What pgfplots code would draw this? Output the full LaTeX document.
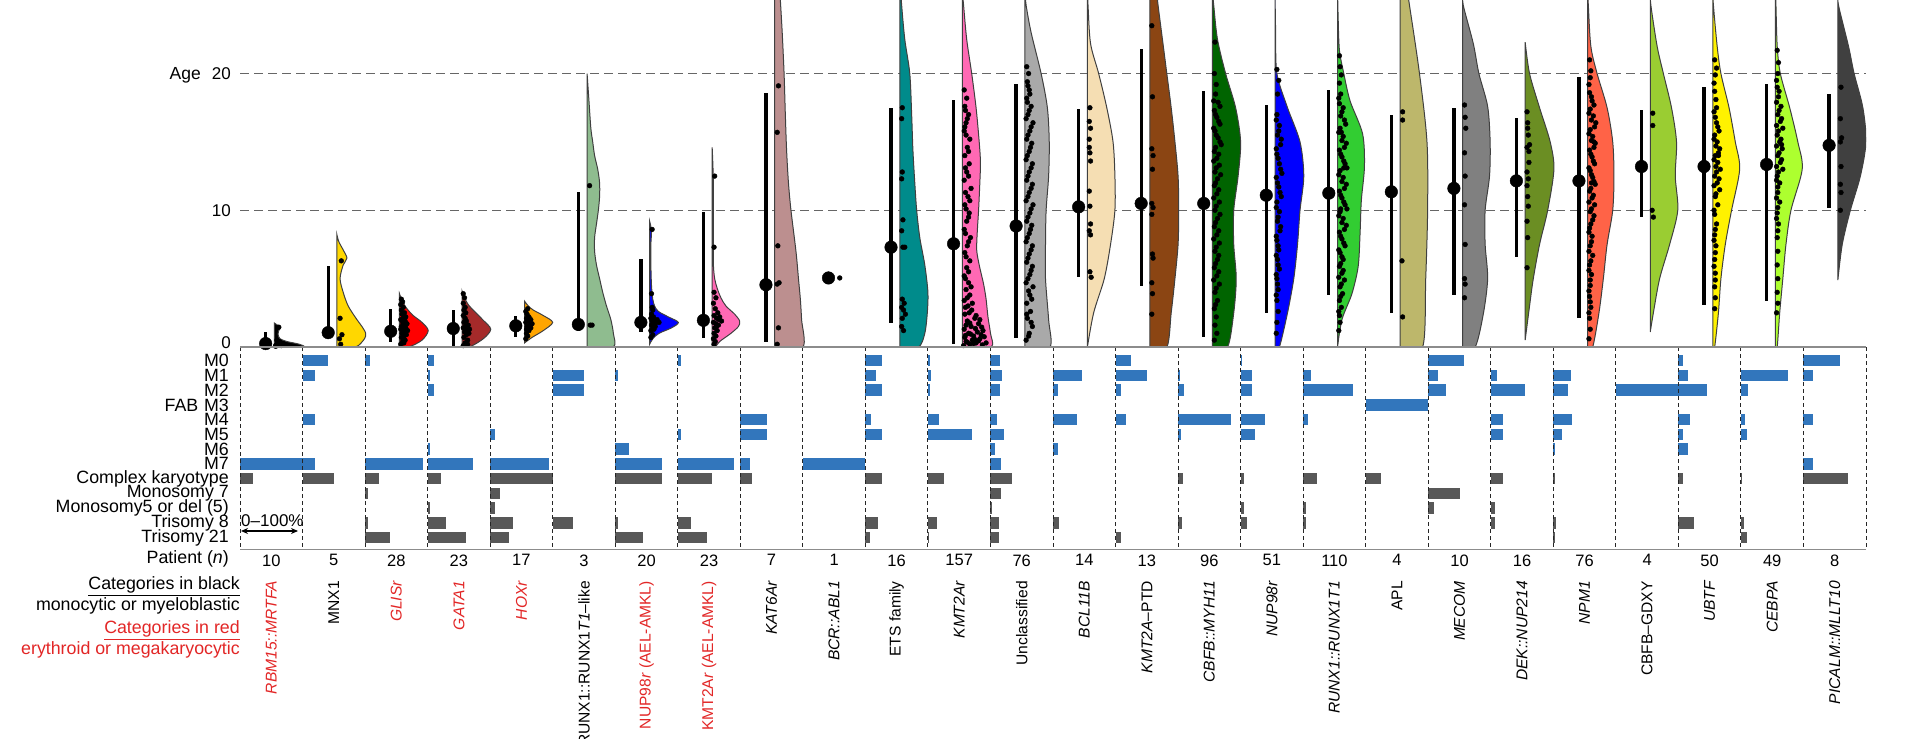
\documentclass[border=0pt]{standalone}
\usepackage{fontspec}
\setmainfont{Liberation Sans}
\usepackage{pgfplots}
\pgfplotsset{compat=1.18}
\usetikzlibrary{arrows.meta}
\definecolor{catred}{RGB}{226,38,38}
\definecolor{barblue}{RGB}{50,118,188}
\definecolor{bargray}{RGB}{88,88,88}
\newcommand{\fs}[1]{\fontsize{#1}{#1}\selectfont}
\newcommand{\violin}[3]{\addplot[smooth, tension=0.5, fill=#2, draw=black!75, line width=1pt, x filter/.expression={x+#1}] coordinates {#3} -- cycle;}
\newcommand{\pts}[2]{\addplot[only marks, mark=*, mark size=2.4pt, mark options={draw=none, fill=black}, x filter/.expression={x+#1}] coordinates {#2};}
\begin{document}
\begin{tikzpicture}
\path[use as bounding box] (0,0) rectangle (1920pt,739pt);
% ---------------- top panel: ages ----------------
\begin{axis}[at={(240pt,392pt)}, anchor=south west, scale only axis,
  width=1626pt, height=347pt, xmin=0, xmax=26, ymin=0, ymax=25.38,
  axis line style={draw=none}, xtick=\empty, ytick={10,20},
  extra y ticks={0}, extra y tick style={grid=none, yticklabel style={yshift=4pt}},
  ymajorgrids, grid style={dash pattern=on 9pt off 5pt, black!60, line width=1.3pt},
  major tick length=0pt,
  yticklabel style={font=\fs{17}, inner sep=0pt, xshift=-9pt},
  /pgf/number format/assume math mode=true]
\violin{0.55}{black}{(0,0)(0.46,0)(0.40,0.2)(0.2,0.4)(0.09,0.6)(0.06,0.9)(0.07,1.2)(0.1,1.45)(0.05,1.6)(0,1.75)}
\violin{1.55}{{rgb,255:red,255;green,215;blue,0}}{(0,0)(0.3,0)(0.44,0.6)(0.46,1.0)(0.4,1.5)(0.32,2)(0.18,3)(0.1,4)(0.05,5)(0.1,6)(0.16,6.5)(0.1,7.1)(0.03,7.7)(0,8.2)}
\violin{2.55}{red}{(0,0)(0.15,0)(0.36,0.5)(0.46,1.2)(0.36,1.8)(0.22,2.3)(0.12,2.8)(0.05,3.3)(0,3.9)}
\violin{3.55}{{rgb,255:red,165;green,42;blue,42}}{(0,0)(0.12,0)(0.34,0.6)(0.46,1.3)(0.33,2)(0.2,2.6)(0.1,3.1)(0.04,3.6)(0,4.1)}
\violin{4.55}{{rgb,255:red,255;green,165;blue,0}}{(0,0.3)(0.12,0.7)(0.3,1.2)(0.45,1.8)(0.3,2.3)(0.14,2.7)(0.06,3)(0,3.35)}
\violin{5.55}{{rgb,255:red,143;green,188;blue,143}}{(0,0)(0.42,0)(0.42,1)(0.38,2)(0.31,3)(0.25,4)(0.2,5)(0.15,6)(0.12,7)(0.12,8)(0.15,9)(0.18,10)(0.2,11)(0.2,12)(0.17,13)(0.12,14)(0.09,15)(0.06,16)(0.03,18)(0,20)}
\violin{6.55}{blue}{(0,0.2)(0.05,0.6)(0.15,1.0)(0.35,1.4)(0.46,1.8)(0.3,2.2)(0.14,2.6)(0.08,3)(0.05,3.5)(0.03,4.5)(0.02,6)(0.02,7.5)(0.03,8.5)(0,9.2)}
\violin{7.55}{{rgb,255:red,255;green,105;blue,180}}{(0,0)(0.05,0)(0.12,0.4)(0.3,1)(0.42,1.5)(0.44,1.9)(0.36,2.4)(0.22,3)(0.14,3.6)(0.08,4.3)(0.04,5)(0.02,6)(0.02,8)(0.02,10)(0.02,12)(0.01,13.5)(0,14.6)}
\violin{8.55}{{rgb,255:red,188;green,143;blue,143}}{(0,0)(0.45,0)(0.43,2)(0.41,3.5)(0.38,5)(0.34,7)(0.26,10)(0.22,12)(0.19,14.4)(0.17,17)(0.15,20)(0.12,23)(0.09,25.4)(0.07,27)(0,29)}
\violin{10.55}{{rgb,255:red,0;green,139;blue,139}}{(0,0)(0.3,0)(0.4,1)(0.44,2.5)(0.45,4)(0.4,6)(0.32,8)(0.27,10)(0.24,12)(0.21,14.4)(0.19,17)(0.16,20)(0.08,22.5)(0.03,25)(0,27)}
\violin{11.55}{{rgb,255:red,255;green,105;blue,180}}{(0,0)(0.46,0)(0.45,1)(0.41,2.2)(0.38,3.5)(0.34,4.6)(0.27,6)(0.23,7.1)(0.24,8.5)(0.26,10)(0.28,12)(0.29,13.5)(0.27,15)(0.22,17.5)(0.15,20)(0.07,22.5)(0.02,25)(0,26)}
\violin{12.55}{{rgb,255:red,169;green,169;blue,169}}{(0,0)(0.4,0)(0.38,2)(0.33,5)(0.33,7.5)(0.34,10)(0.38,12.5)(0.39,15)(0.36,17.5)(0.26,20)(0.1,23)(0.02,25)(0,26)}
\violin{13.55}{{rgb,255:red,245;green,222;blue,179}}{(0,0)(0.1,2.5)(0.27,5)(0.37,7.5)(0.44,10)(0.44,12.5)(0.41,15)(0.31,17.5)(0.18,20)(0.05,22.2)(0.01,25)(0,26)}
\violin{14.55}{{rgb,255:red,139;green,69;blue,19}}{(0,0)(0.27,0)(0.34,2.5)(0.4,5)(0.45,7.5)(0.46,10)(0.45,12.5)(0.4,15)(0.34,17.5)(0.27,20)(0.2,22.5)(0.13,25)(0.08,27)(0,29)}
\violin{15.55}{{rgb,255:red,0;green,100;blue,0}}{(0,0)(0.24,0)(0.34,2.5)(0.38,5)(0.34,7.5)(0.34,10)(0.41,12.5)(0.45,15)(0.37,17.5)(0.21,20)(0.08,22.5)(0.02,25)(0,26)}
\violin{16.55}{blue}{(0,0)(0.07,0)(0.2,2.5)(0.3,5)(0.36,7.5)(0.4,10)(0.46,12.5)(0.4,15)(0.2,17.5)(0.03,20)(0.01,23)(0,26)}
\violin{17.55}{{rgb,255:red,50;green,205;blue,50}}{(0,0)(0.07,2)(0.23,3.9)(0.33,5.9)(0.36,8.3)(0.38,10.7)(0.43,13.2)(0.4,15.6)(0.2,18)(0.1,20)(0.03,21.7)(0.01,24)(0,26)}
\violin{18.55}{{rgb,255:red,189;green,183;blue,107}}{(0,0)(0.36,0)(0.41,5)(0.44,10)(0.43,15)(0.31,20)(0.15,25)(0.08,27)(0,29)}
\violin{19.55}{{rgb,255:red,128;green,128;blue,128}}{(0,0)(0.2,0)(0.33,2.4)(0.4,5)(0.36,7.5)(0.36,10)(0.43,12.5)(0.44,15)(0.4,17.6)(0.26,20)(0.17,22.2)(0.01,25)(0,26)}
\violin{20.55}{{rgb,255:red,107;green,142;blue,35}}{(0,0.5)(0.07,3)(0.13,5)(0.23,7.5)(0.36,10)(0.46,13)(0.4,15)(0.23,17.5)(0.07,20)(0,22.3)}
\violin{21.55}{{rgb,255:red,255;green,99;blue,71}}{(0,0)(0.08,0)(0.18,2.5)(0.25,5)(0.31,7.5)(0.4,10)(0.42,12.5)(0.4,15)(0.31,17.5)(0.15,20)(0.05,22)(0.01,25)(0,26)}
\violin{22.55}{{rgb,255:red,154;green,205;blue,50}}{(0,1.1)(0.05,2.5)(0.15,5)(0.31,7.5)(0.44,10)(0.4,12.5)(0.42,15)(0.34,17.5)(0.21,20)(0.11,22)(0.01,25)(0,26)}
\violin{23.55}{yellow}{(0,0)(0.03,0)(0.09,2.5)(0.13,5)(0.2,7.5)(0.3,10)(0.43,13)(0.36,15)(0.26,17.5)(0.13,20)(0.07,22)(0.01,25)(0,26)}
\violin{24.55}{{rgb,255:red,173;green,255;blue,47}}{(0,0)(0.03,0)(0.07,2.5)(0.12,5)(0.17,7.5)(0.25,10)(0.43,13)(0.36,15)(0.23,17.5)(0.08,20)(0.03,22)(0.01,25)(0,26)}
\violin{25.55}{{rgb,255:red,64;green,64;blue,64}}{(0,4.9)(0.07,7.5)(0.2,10)(0.36,12.5)(0.45,15)(0.4,17.5)(0.26,20)(0.17,22)(0.01,25)(0,26)}
% patients
\pts{0.55}{(0.02,0.1)(0.06,0.2)(0.1,0.3)(0.03,0.15)(0.08,0.4)(0.14,0.25)(0.04,0.5)(0.11,0.1)(0.07,1.45)(0.02,0.05)}
\pts{1.55}{(0.07,6.3)(0.05,2.1)(0.08,0.9)(0.04,0.6)(0.06,0.2)}
\pts{2.55}{(0.02,0.2)(0.05,0.4)(0.09,0.5)(0.03,0.7)(0.07,0.8)(0.11,0.9)(0.04,1.0)(0.08,1.1)(0.13,1.2)(0.02,1.3)(0.06,1.3)(0.1,1.4)(0.03,1.5)(0.07,1.6)(0.12,1.7)(0.05,1.8)(0.09,1.9)(0.02,2.0)(0.06,2.1)(0.1,2.2)(0.04,2.4)(0.08,2.5)(0.03,2.7)(0.06,2.9)(0.02,3.1)(0.05,3.3)(0.03,3.5)(0.07,0.3)}
\pts{3.55}{(0.02,0.1)(0.05,0.3)(0.09,0.5)(0.03,0.7)(0.07,0.9)(0.11,1.0)(0.04,1.1)(0.08,1.2)(0.12,1.3)(0.02,1.4)(0.06,1.5)(0.1,1.6)(0.03,1.8)(0.07,1.9)(0.05,2.1)(0.02,2.3)(0.06,2.5)(0.03,2.7)(0.05,2.9)(0.02,3.2)(0.04,3.6)(0.02,3.9)(0.09,0.2)}
\pts{4.55}{(0.02,0.6)(0.05,0.8)(0.03,1.0)(0.07,1.2)(0.1,1.4)(0.04,1.5)(0.08,1.6)(0.12,1.7)(0.02,1.8)(0.06,1.9)(0.1,2.0)(0.03,2.1)(0.07,2.2)(0.04,2.4)(0.02,2.6)(0.05,2.8)(0.03,1.3)}
\pts{5.55}{(0.04,11.8)(0.05,1.6)(0.08,1.6)}
\pts{6.55}{(0.04,8.6)(0.03,3.9)(0.05,2.7)(0.02,1.2)(0.05,1.4)(0.09,1.5)(0.03,1.6)(0.07,1.7)(0.11,1.8)(0.15,1.8)(0.04,1.9)(0.08,2.0)(0.12,2.0)(0.02,2.1)(0.06,2.2)(0.03,2.4)(0.05,0.9)(0.02,0.7)(0.07,1.3)(0.04,2.9)}
\pts{7.55}{(0.04,12.5)(0.03,7.3)(0.03,4.0)(0.06,3.6)(0.02,3.2)(0.05,2.8)(0.09,2.5)(0.03,2.3)(0.07,2.1)(0.11,2.0)(0.15,1.9)(0.02,1.8)(0.06,1.7)(0.1,1.6)(0.04,1.4)(0.08,1.2)(0.03,1.0)(0.06,0.8)(0.02,0.6)(0.05,0.4)(0.03,0.2)(0.07,1.5)(0.12,2.2)}
\pts{8.55}{(0.06,19.1)(0.04,15.7)(0.05,7.4)(0.04,4.6)(0.07,4.7)(0.06,1.4)(0.04,0.2)}
\pts{9.55}{(0.04,5.05)}
\pts{10.55}{(0.04,17.5)(0.03,16.7)(0.04,12.8)(0.03,12.3)(0.05,9.3)(0.03,8.5)(0.05,7.3)(0.08,7.3)(0.04,3.5)(0.07,3.2)(0.03,2.9)(0.06,2.7)(0.09,2.4)(0.04,2.1)(0.03,1.5)(0.06,1.2)}
\pts{11.55}{(0.02,0.1)(0.12,0.2)(0.22,0.3)(0.06,0.4)(0.16,0.5)(0.28,0.6)(0.04,0.7)(0.18,0.8)(0.3,0.9)(0.1,1.0)(0.24,1.1)(0.03,1.3)(0.14,1.5)(0.26,1.7)(0.08,1.9)(0.2,2.1)(0.04,2.4)(0.15,2.7)(0.09,3.0)(0.03,3.4)(0.12,3.8)(0.06,4.2)(0.1,4.7)(0.03,5.2)(0.07,5.8)(0.12,6.3)(0.04,6.9)(0.08,7.4)(0.13,8.0)(0.03,8.6)(0.07,9.2)(0.11,9.8)(0.04,10.4)(0.09,11.0)(0.14,11.6)(0.03,12.2)(0.07,12.8)(0.11,13.4)(0.04,14.0)(0.08,14.6)(0.12,15.2)(0.03,15.8)(0.06,16.4)(0.1,17.0)(0.04,17.6)(0.07,18.2)(0.03,18.8)(0.32,0.15)(0.08,0.35)(0.2,0.55)(0.35,0.75)(0.13,0.95)(0.33,1.2)(0.06,1.6)(0.28,2.0)(0.11,2.5)}
\pts{11.55}{(0.18,0.25)(0.26,0.45)(0.38,0.3)(0.05,0.85)(0.21,1.35)(0.31,1.45)(0.12,1.75)(0.22,2.3)(0.05,2.9)(0.16,3.2)(0.08,3.6)(0.14,4.4)(0.05,5.0)(0.1,5.5)(0.06,6.6)(0.1,7.7)(0.05,8.3)(0.1,9.5)(0.06,10.1)(0.12,10.7)(0.05,11.3)(0.1,12.5)(0.05,13.1)(0.1,14.3)(0.06,15.5)(0.04,16.1)(0.08,16.7)(0.05,17.3)}
\pts{12.55}{(0.02,0.5)(0.07,1.0)(0.12,1.5)(0.04,2.1)(0.09,2.6)(0.03,3.2)(0.08,3.8)(0.13,4.4)(0.05,5.0)(0.1,5.6)(0.03,6.2)(0.07,6.8)(0.12,7.4)(0.04,8.0)(0.09,8.6)(0.03,9.2)(0.08,9.8)(0.13,10.4)(0.05,11.0)(0.1,11.6)(0.03,12.2)(0.07,12.8)(0.12,13.4)(0.04,14.0)(0.09,14.6)(0.03,15.2)(0.08,15.8)(0.13,16.4)(0.05,17.0)(0.1,17.6)(0.03,18.2)(0.07,18.8)(0.04,19.4)(0.06,20.0)(0.03,20.5)}
\pts{12.55}{(0.06,0.8)(0.1,1.8)(0.03,2.4)(0.11,3.5)(0.06,4.1)(0.02,4.7)(0.08,5.3)(0.12,5.9)(0.05,6.5)(0.1,7.1)(0.02,7.7)(0.07,8.3)(0.11,8.9)(0.05,9.5)(0.1,10.1)(0.02,10.7)(0.07,11.3)(0.12,11.9)(0.05,12.5)(0.1,13.1)(0.02,13.7)(0.07,14.3)(0.11,14.9)(0.05,15.5)(0.1,16.1)(0.02,16.7)(0.07,17.3)(0.04,17.9)(0.08,18.5)(0.05,19.1)}
\pts{13.55}{(0.04,17.5)(0.03,16.5)(0.05,16.0)(0.03,15.2)(0.04,14.2)(0.05,13.6)(0.03,11.4)(0.04,10.3)(0.03,8.5)(0.05,8.2)(0.04,5.5)(0.06,5.1)(0.03,14.6)(0.05,9.0)}
\pts{14.55}{(0.03,23.5)(0.04,18.3)(0.03,14.5)(0.05,14.0)(0.04,13.0)(0.03,10.5)(0.05,10.2)(0.03,9.7)(0.04,6.8)(0.05,6.5)(0.03,4.7)(0.04,3.9)(0.03,2.4)}
\pts{15.55}{(0.04,22.3)(0.03,20.0)(0.05,18.5)(0.09,17.9)(0.03,17.3)(0.07,16.8)(0.12,16.3)(0.04,15.8)(0.09,15.3)(0.14,14.8)(0.03,14.3)(0.07,13.8)(0.11,13.3)(0.04,12.8)(0.08,12.3)(0.03,11.8)(0.07,11.2)(0.11,10.6)(0.04,10.0)(0.08,9.4)(0.03,8.8)(0.07,8.2)(0.11,7.6)(0.04,7.0)(0.08,6.4)(0.03,5.8)(0.07,5.2)(0.11,4.6)(0.04,4.0)(0.08,3.4)(0.03,2.8)(0.06,2.2)(0.04,1.6)(0.07,1.0)(0.03,0.5)}
\pts{15.55}{(0.06,19.2)(0.02,18.0)(0.12,17.6)(0.05,17.0)(0.1,16.5)(0.02,16.0)(0.06,15.5)(0.12,15.0)(0.05,14.6)(0.1,14.1)(0.02,13.6)(0.06,13.1)(0.13,12.6)(0.05,12.0)(0.1,11.5)(0.02,10.9)(0.06,10.3)(0.12,9.7)(0.05,9.1)(0.1,8.5)(0.02,7.9)(0.06,7.3)(0.1,6.7)(0.05,6.1)(0.1,5.5)(0.02,4.9)(0.06,4.3)(0.05,3.1)}
\pts{16.55}{(0.03,20.3)(0.04,18.5)(0.03,17.0)(0.07,16.2)(0.04,15.5)(0.09,14.8)(0.03,14.1)(0.07,13.4)(0.11,12.7)(0.04,12.0)(0.08,11.3)(0.03,10.6)(0.07,9.9)(0.04,9.2)(0.08,8.5)(0.03,7.8)(0.06,7.1)(0.04,6.4)(0.07,5.7)(0.03,5.0)(0.05,4.2)(0.03,3.4)(0.05,2.6)(0.03,1.8)(0.02,1.0)}
\pts{16.55}{(0.06,19.5)(0.02,16.6)(0.06,15.8)(0.1,15.2)(0.02,14.5)(0.05,13.8)(0.09,13.0)(0.02,12.4)(0.06,11.7)(0.1,11.0)(0.02,10.2)(0.05,9.5)(0.09,8.8)(0.02,8.1)(0.05,7.4)(0.02,6.7)(0.05,6.0)(0.02,5.3)(0.04,4.6)(0.02,3.8)}
\pts{17.55}{(0.03,21.3)(0.04,20.5)(0.03,19.3)(0.05,18.5)(0.03,17.8)(0.07,17.2)(0.11,16.6)(0.04,16.0)(0.09,15.4)(0.14,14.9)(0.03,14.4)(0.07,13.9)(0.12,13.4)(0.04,12.9)(0.09,12.4)(0.14,11.9)(0.03,11.4)(0.07,10.9)(0.12,10.4)(0.04,9.9)(0.09,9.4)(0.14,8.9)(0.03,8.4)(0.07,7.9)(0.12,7.4)(0.04,6.9)(0.09,6.4)(0.03,5.9)(0.07,5.4)(0.11,4.9)(0.04,4.4)(0.08,3.9)(0.03,3.4)(0.06,2.9)(0.03,2.3)(0.04,1.8)(0.02,1.2)(0.06,15.7)(0.1,13.1)(0.05,10.1)}
\pts{17.55}{(0.06,19.9)(0.02,18.2)(0.09,17.5)(0.05,16.9)(0.13,16.3)(0.02,15.7)(0.07,15.1)(0.11,14.6)(0.05,14.1)(0.1,13.6)(0.15,13.1)(0.02,12.6)(0.07,12.1)(0.11,11.6)(0.05,11.1)(0.1,10.6)(0.15,10.1)(0.02,9.6)(0.07,9.1)(0.11,8.6)(0.05,8.1)(0.1,7.6)(0.02,7.1)(0.07,6.6)(0.05,6.1)(0.09,5.6)(0.02,5.1)(0.06,4.6)(0.05,3.7)(0.02,2.6)}
\pts{18.55}{(0.04,17.2)(0.04,16.6)(0.03,6.3)(0.04,2.2)}
\pts{19.55}{(0.03,17.7)(0.04,16.8)(0.03,14.2)(0.04,12.5)(0.03,10.4)(0.04,7.5)(0.03,5.0)(0.04,4.6)(0.03,3.6)(0.05,16.0)}
\pts{20.55}{(0.03,17.2)(0.04,16.4)(0.05,15.5)(0.03,14.6)(0.06,14.3)(0.03,12.8)(0.05,12.3)(0.03,11.8)(0.04,11.0)(0.05,10.3)(0.03,9.2)(0.04,8.0)(0.03,5.8)(0.07,14.8)(0.06,13.5)(0.04,16.0)}
\pts{21.55}{(0.03,21.0)(0.04,19.7)(0.03,18.6)(0.07,18.0)(0.04,17.4)(0.09,16.9)(0.13,16.4)(0.04,15.9)(0.08,15.4)(0.12,14.9)(0.03,14.4)(0.07,13.9)(0.11,13.4)(0.04,12.9)(0.08,12.4)(0.12,11.9)(0.03,11.4)(0.07,10.9)(0.11,10.4)(0.04,9.9)(0.08,9.3)(0.03,8.7)(0.07,8.1)(0.04,7.4)(0.08,6.7)(0.03,6.0)(0.06,5.3)(0.04,4.5)(0.03,3.7)(0.05,2.9)(0.03,2.1)(0.04,1.3)(0.02,0.6)(0.1,15.0)(0.06,12.0)}
\pts{21.55}{(0.05,20.2)(0.02,19.2)(0.06,18.3)(0.1,17.7)(0.02,17.1)(0.06,16.6)(0.11,16.1)(0.02,15.6)(0.06,15.1)(0.1,14.6)(0.05,14.1)(0.09,13.6)(0.02,13.1)(0.06,12.6)(0.1,12.1)(0.05,11.6)(0.09,11.1)(0.02,10.6)(0.06,10.1)(0.1,9.6)(0.05,9.0)(0.02,8.4)(0.06,7.7)(0.02,7.0)(0.05,6.3)(0.02,5.6)(0.04,4.9)(0.02,4.1)(0.04,3.3)(0.02,2.5)}
\pts{22.55}{(0.04,17.1)(0.04,16.2)(0.03,10.0)(0.05,9.5)}
\pts{23.55}{(0.03,21.0)(0.04,19.9)(0.03,18.7)(0.06,17.5)(0.04,16.8)(0.08,16.1)(0.03,15.5)(0.07,15.0)(0.11,14.5)(0.04,14.0)(0.08,13.5)(0.12,13.0)(0.03,12.5)(0.07,12.0)(0.11,11.5)(0.04,11.0)(0.08,10.4)(0.03,9.7)(0.06,9.0)(0.03,8.2)(0.05,7.4)(0.03,6.4)(0.04,5.4)(0.03,4.4)(0.04,3.6)(0.03,2.8)(0.05,13.2)(0.09,14.2)}
\pts{23.55}{(0.06,20.4)(0.02,19.3)(0.05,18.1)(0.02,17.2)(0.06,16.4)(0.1,15.8)(0.02,15.2)(0.05,14.7)(0.09,14.0)(0.02,13.7)(0.06,12.8)(0.1,12.3)(0.02,11.8)(0.05,11.2)(0.02,10.0)(0.04,8.6)(0.02,7.8)(0.04,6.9)(0.02,5.9)(0.04,4.9)}
\pts{24.55}{(0.03,21.7)(0.04,20.0)(0.03,19.0)(0.05,18.3)(0.09,17.6)(0.04,17.0)(0.08,16.5)(0.12,16.0)(0.03,15.5)(0.07,15.0)(0.11,14.5)(0.04,14.0)(0.08,13.5)(0.12,13.0)(0.03,12.5)(0.07,12.0)(0.04,11.3)(0.07,10.6)(0.03,9.8)(0.05,9.0)(0.03,8.0)(0.04,7.0)(0.03,6.0)(0.04,5.0)(0.03,4.0)(0.04,3.2)(0.02,2.5)(0.1,14.8)}
\pts{24.55}{(0.05,20.8)(0.02,19.5)(0.06,18.7)(0.02,17.9)(0.06,17.3)(0.1,16.7)(0.02,16.2)(0.05,15.8)(0.09,15.2)(0.02,14.7)(0.06,14.2)(0.1,13.7)(0.02,13.2)(0.05,12.8)(0.02,12.2)(0.04,11.7)(0.02,10.9)(0.04,10.2)(0.02,9.4)(0.04,8.5)}
\pts{25.55}{(0.05,19.0)(0.04,16.7)(0.06,15.3)(0.04,15.0)(0.05,13.2)(0.04,11.9)(0.05,11.3)(0.04,10.0)}
% medians and ranges
\addplot[only marks, mark=*, mark size=6.3pt, black,
  error bars/.cd, y dir=both, y explicit, error mark=none,
  error bar style={line width=3.3pt, black}] coordinates {
(0.41,0.25) += (0,0.85) -= (0,0.25)
(1.41,1.05) += (0,4.85) -= (0,0.35)
(2.41,1.15) += (0,1.65) -= (0,0.8)
(3.41,1.35) += (0,1.35) -= (0,1.25)
(4.41,1.55) += (0,0.7) -= (0,0.85)
(5.41,1.65) += (0,9.65) -= (0,0.45)
(6.41,1.8) += (0,4.6) -= (0,0.7)
(7.41,1.95) += (0,7.9) -= (0,1.3)
(8.41,4.55) += (0,14.05) -= (0,4.2)
(9.41,5.05) += (0,0) -= (0,0)
(10.41,7.3) += (0,10.2) -= (0,5.55)
(11.41,7.55) += (0,10.55) -= (0,7.35)
(12.41,8.85) += (0,10.35) -= (0,8.2)
(13.41,10.25) += (0,7.15) -= (0,5.15)
(14.41,10.5) += (0,11.3) -= (0,6.05)
(15.41,10.5) += (0,8.25) -= (0,9.8)
(16.41,11.1) += (0,6.6) -= (0,8.65)
(17.41,11.25) += (0,7.55) -= (0,7.45)
(18.41,11.35) += (0,5.65) -= (0,8.85)
(19.41,11.6) += (0,5.9) -= (0,7.8)
(20.41,12.15) += (0,4.6) -= (0,5.6)
(21.41,12.15) += (0,7.6) -= (0,10.0)
(22.41,13.2) += (0,4.15) -= (0,3.7)
(23.41,13.2) += (0,5.85) -= (0,10.1)
(24.41,13.35) += (0,5.9) -= (0,10.0)
(25.41,14.75) += (0,3.75) -= (0,4.55)
};
\end{axis}
% ---------------- lower panel: FAB and cytogenetics ----------------
\begin{axis}[at={(240pt,189.7pt)}, anchor=south west, scale only axis,
  width=1626pt, height=202pt, xmin=0, xmax=26, ymin=-0.91, ymax=12.8,
  y dir=reverse, axis line style={draw=none}, axis on top,
  major tick length=0pt, minor tick length=0pt,
  xtick={0.5,1.5,...,25.5},
  xticklabels={10,5,28,23,17,3,20,23,7,1,16,157,76,14,13,96,51,110,4,10,16,76,4,50,49,8},
  minor xtick={0,1,...,26}, xminorgrids,
  minor grid style={dash pattern=on 4pt off 3pt, black!85, line width=1pt},
  ytick={0,1,...,12},
  yticklabels={M0,M1,M2,M3,M4,M5,M6,M7,Complex karyotype,Monosomy 7,Monosomy5 or del (5),Trisomy 8,Trisomy 21},
  yticklabel style={font=\fs{17.8}, inner sep=0pt, xshift=-11pt},
  xticklabel style={font=\fs{16.5}, inner sep=0pt, yshift=-5pt}]
\addplot[draw=none, mark=none, error bars/.cd, x dir=plus, x explicit, error mark=none,
  error bar style={draw=barblue, line width=11.5pt}] coordinates {
(1,0) +- (0.4,0) (2,0) +- (0.08,0) (3,0) +- (0.1,0) (7,0) +- (0.05,0) (10,0) +- (0.26,0) (11,0) +- (0.04,0) (12,0) +- (0.15,0) (14,0) +- (0.25,0) (16,0) +- (0.02,0) (19,0) +- (0.57,0) (23,0) +- (0.07,0) (25,0) +- (0.58,0)
(1,1) +- (0.2,0) (3,1) +- (0.04,0) (5,1) +- (0.5,0) (6,1) +- (0.05,0) (10,1) +- (0.17,0) (11,1) +- (0.05,0) (12,1) +- (0.19,0) (13,1) +- (0.46,0) (14,1) +- (0.5,0) (15,1) +- (0.03,0) (16,1) +- (0.18,0) (17,1) +- (0.12,0) (19,1) +- (0.15,0) (20,1) +- (0.1,0) (21,1) +- (0.29,0) (23,1) +- (0.15,0) (24,1) +- (0.75,0) (25,1) +- (0.16,0)
(3,2) +- (0.1,0) (5,2) +- (0.5,0) (10,2) +- (0.26,0) (11,2) +- (0.03,0) (12,2) +- (0.15,0) (13,2) +- (0.08,0) (14,2) +- (0.09,0) (15,2) +- (0.1,0) (16,2) +- (0.18,0) (17,2) +- (0.8,0) (19,2) +- (0.29,0) (20,2) +- (0.55,0) (21,2) +- (0.23,0) (22,2) +- (1.0,0) (23,2) +- (0.46,0) (24,2) +- (0.12,0)
(18,3) +- (1.0,0)
(1,4) +- (0.2,0) (8,4) +- (0.43,0) (10,4) +- (0.09,0) (11,4) +- (0.18,0) (12,4) +- (0.1,0) (13,4) +- (0.38,0) (14,4) +- (0.17,0) (15,4) +- (0.85,0) (16,4) +- (0.39,0) (17,4) +- (0.08,0) (20,4) +- (0.19,0) (21,4) +- (0.3,0) (23,4) +- (0.18,0) (24,4) +- (0.06,0) (25,4) +- (0.16,0)
(4,5) +- (0.07,0) (7,5) +- (0.05,0) (8,5) +- (0.43,0) (10,5) +- (0.26,0) (11,5) +- (0.71,0) (12,5) +- (0.21,0) (15,5) +- (0.05,0) (16,5) +- (0.23,0) (20,5) +- (0.19,0) (21,5) +- (0.14,0) (23,5) +- (0.08,0) (24,5) +- (0.1,0)
(3,6) +- (0.04,0) (6,6) +- (0.22,0) (12,6) +- (0.07,0) (13,6) +- (0.08,0) (21,6) +- (0.03,0) (23,6) +- (0.16,0)
(0,7) +- (1.0,0) (1,7) +- (0.2,0) (2,7) +- (0.92,0) (3,7) +- (0.72,0) (4,7) +- (0.94,0) (6,7) +- (0.74,0) (7,7) +- (0.9,0) (8,7) +- (0.15,0) (9,7) +- (1.0,0) (12,7) +- (0.17,0) (25,7) +- (0.16,0)
};
\addplot[draw=none, mark=none, error bars/.cd, x dir=plus, x explicit, error mark=none,
  error bar style={draw=bargray, line width=11.5pt}] coordinates {
(0,8) +- (0.2,0) (1,8) +- (0.5,0) (2,8) +- (0.22,0) (3,8) +- (0.22,0) (4,8) +- (1.0,0) (6,8) +- (0.74,0) (7,8) +- (0.55,0) (8,8) +- (0.18,0) (10,8) +- (0.27,0) (11,8) +- (0.25,0) (12,8) +- (0.35,0) (15,8) +- (0.08,0) (16,8) +- (0.05,0) (17,8) +- (0.22,0) (18,8) +- (0.25,0) (20,8) +- (0.19,0) (21,8) +- (0.03,0) (23,8) +- (0.08,0) (24,8) +- (0.02,0) (25,8) +- (0.72,0)
(2,9) +- (0.04,0) (4,9) +- (0.15,0) (12,9) +- (0.17,0) (19,9) +- (0.5,0)
(3,10) +- (0.04,0) (4,10) +- (0.08,0) (12,10) +- (0.03,0) (16,10) +- (0.06,0) (17,10) +- (0.04,0) (19,10) +- (0.1,0) (20,10) +- (0.07,0)
(2,11) +- (0.04,0) (3,11) +- (0.3,0) (4,11) +- (0.36,0) (5,11) +- (0.33,0) (6,11) +- (0.05,0) (7,11) +- (0.21,0) (10,11) +- (0.2,0) (11,11) +- (0.14,0) (12,11) +- (0.14,0) (13,11) +- (0.1,0) (15,11) +- (0.07,0) (16,11) +- (0.1,0) (17,11) +- (0.04,0) (20,11) +- (0.07,0) (21,11) +- (0.05,0) (23,11) +- (0.25,0) (24,11) +- (0.05,0)
(2,12) +- (0.4,0) (3,12) +- (0.61,0) (4,12) +- (0.3,0) (6,12) +- (0.45,0) (7,12) +- (0.46,0) (10,12) +- (0.08,0) (11,12) +- (0.02,0) (12,12) +- (0.14,0) (14,12) +- (0.09,0) (21,12) +- (0.03,0) (24,12) +- (0.09,0)
};
\end{axis}
% ---------------- category names ----------------
\begin{axis}[at={(240pt,158pt)}, anchor=south west, scale only axis,
  width=1626pt, height=2pt, xmin=0, xmax=26, ymin=0, ymax=1,
  axis line style={draw=none}, major tick length=0pt, ytick=\empty,
  xtick={0.5,1.5,...,25.5},
  xticklabels={{\color{catred}\itshape RBM15::MRTFA},MNX1,{\color{catred}\itshape GLISr},{\color{catred}\itshape GATA1},{\color{catred}\itshape HOXr},{RUNX1::RUNX1\textit{T1}–like},{\color{catred}NUP98\textit{r} (AEL-AMKL)},{\color{catred}KMT2A\textit{r} (AEL-AMKL)},{\itshape KAT6Ar},{\itshape BCR::ABL1},ETS family,{\itshape KMT2Ar},Unclassified,{\itshape BCL11B},{\textit{KMT2A}–PTD},{\itshape CBFB::MYH11},{\itshape NUP98r},{\itshape RUNX1::RUNX1T1},APL,{\itshape MECOM},{\itshape DEK::NUP214},{\itshape NPM1},CBFB–GDXY,{\itshape UBTF},{\itshape CEBPA},{\itshape PICALM::MLLT10}},
  xticklabel style={font=\fs{15.6}, rotate=90, anchor=east, inner sep=0pt}]
\addplot[draw=none, mark=none] coordinates {(0,0) (26,1)};
\end{axis}
% ---------------- annotations ----------------
\draw[black!45, line width=1.5pt] (240pt,392pt) -- (1866pt,392pt);
\draw[black!45, line width=1.5pt] (240pt,189.7pt) -- (1866pt,189.7pt);
\node[anchor=base east, inner sep=0pt, font=\fs{17.5}] at (201pt,659.5pt) {Age};
\node[anchor=base east, inner sep=0pt, font=\fs{17.8}] at (198.5pt,327.3pt) {FAB};
\node[anchor=base east, inner sep=0pt, font=\fs{17.8}] at (229pt,175pt) {Patient (\textit{n})};
\node[anchor=base west, inner sep=0pt, font=\fs{17}] at (241pt,212.3pt) {0–100\%};
\draw[{Stealth[length=7pt,width=6pt]}-{Stealth[length=7pt,width=6pt]}, line width=1.4pt] (241pt,208pt) -- (298pt,208pt);
\node[anchor=base east, inner sep=0pt, font=\fs{17.8}] at (240pt,149pt) {\underline{Categories in black}};
\node[anchor=base east, inner sep=0pt, font=\fs{17.8}] at (240pt,128.3pt) {monocytic or myeloblastic};
\node[anchor=base east, inner sep=0pt, font=\fs{17.8}, text=catred] at (240pt,105pt) {\underline{Categories in red}};
\node[anchor=base east, inner sep=0pt, font=\fs{17.8}, text=catred] at (240pt,84.7pt) {erythroid or megakaryocytic};
\end{tikzpicture}
\end{document}
